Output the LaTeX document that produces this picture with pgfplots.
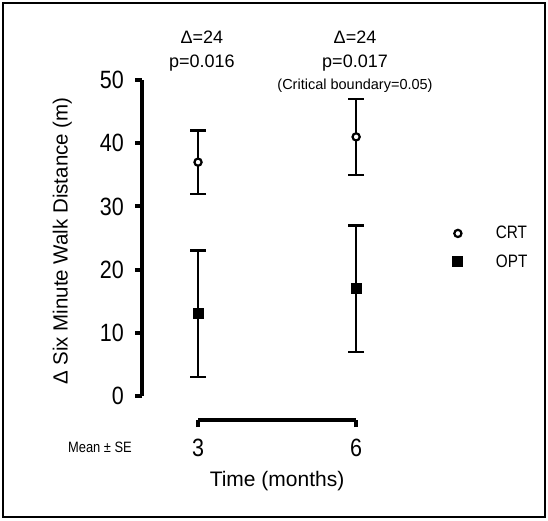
\documentclass[border=0pt]{standalone}
\usepackage{fontspec}
\setmainfont{Liberation Sans}
\newfontfamily\condfont[FakeStretch=0.86]{Liberation Sans}
\newfontfamily\legfont[FakeStretch=0.85]{Liberation Sans}
\usepackage{pgfplots}
\pgfplotsset{compat=1.18}

\begin{document}
\begin{tikzpicture}[x=1pt,y=1pt]
\useasboundingbox (0,0) rectangle (548,520);
\draw[line width=2.5pt] (3,3) rectangle (545,517);

% y axis and the data
\begin{axis}[
    at={(142pt,124pt)}, anchor=south west,
    x=52.7pt, y=6.32pt,
    xmin=1.937, xmax=9.5, ymin=0, ymax=50,
    enlargelimits=false,
    clip=false,
    axis x line=none, axis y line*=left,
    axis line style={line width=4.5pt, -},
    ytick={0,10,...,50},
    tick align=outside,
    major tick length=7pt,
    major tick style={line width=4pt, black},
    /pgf/number format/assume math mode=true,
    yticklabel style={font=\condfont\fontsize{25}{25}\selectfont, inner sep=0pt, xshift=-11pt},
    ylabel={Δ Six Minute Walk Distance (m)},
    every axis y label/.style={at={(rel axis cs:-0.2,0.49)}, rotate=90, anchor=center,
        font=\fontsize{20.5}{20.5}\selectfont},
    legend style={at={(rel axis cs:0.772,0.55)}, anchor=north west, draw=none, fill=none,
        font=\legfont\fontsize{18}{18}\selectfont, row sep=10pt},
    legend cell align=left,
    legend image code/.code={\draw[#1] plot coordinates {(0pt,0pt)};
        \path[draw=none, fill=none] (0pt,0pt) -- (36pt,0pt);},
    error bars/error bar style={line width=2.4pt, black},
    error bars/error mark options={rotate=90, mark size=8pt, line width=2.4pt, black},
  ]
  \addplot[only marks, mark=*, mark size=3.6pt,
    mark options={draw=black, fill=white, line width=2.2pt},
    error bars/.cd, y dir=both, y explicit]
    coordinates {(3,37) +- (0,5) (6,41) +- (0,6)};
  \addplot[only marks, mark=square*, mark size=5pt,
    mark options={draw=black, fill=black, line width=0pt},
    error bars/.cd, y dir=both, y explicit]
    coordinates {(3,13) +- (0,10) (6,17) +- (0,10)};
  \legend{CRT, OPT}

  \node[anchor=base, font=\fontsize{18}{18}\selectfont] at (axis cs:3.075,55.85) {Δ=24};
  \node[anchor=base, font=\fontsize{18}{18}\selectfont] at (axis cs:3.075,51.9) {p=0.016};
  \node[anchor=base, font=\fontsize{18}{18}\selectfont] at (axis cs:5.979,55.85) {Δ=24};
  \node[anchor=base, font=\fontsize{18}{18}\selectfont] at (axis cs:5.979,51.9) {p=0.017};
  \node[anchor=base, font=\fontsize{14.5}{14.5}\selectfont] at (axis cs:5.979,48.5) {(Critical boundary=0.05)};
  \node[anchor=base, font=\condfont\fontsize{15}{15}\selectfont] at (axis cs:1.14,-9.0) {Mean ± SE};
\end{axis}

% x axis, offset below the y axis
\begin{axis}[
    at={(198pt,100pt)}, anchor=south west,
    x=52.7pt, y=1pt,
    xmin=3, xmax=6, ymin=0, ymax=1,
    enlargelimits=false,
    axis y line=none, axis x line*=bottom,
    axis line style={line width=4pt, -},
    xtick={3,6},
    tick align=outside,
    major tick length=7pt,
    major tick style={line width=4pt, black},
    /pgf/number format/assume math mode=true,
    xticklabel style={font=\condfont\fontsize{25}{25}\selectfont, inner sep=0pt, yshift=-12pt},
    xlabel={Time (months)},
    every axis x label/.style={at={(rel axis cs:0.5,0)}, yshift=-66pt, anchor=base,
        font=\fontsize{21}{21}\selectfont},
  ]
\end{axis}
\end{tikzpicture}
\end{document}
